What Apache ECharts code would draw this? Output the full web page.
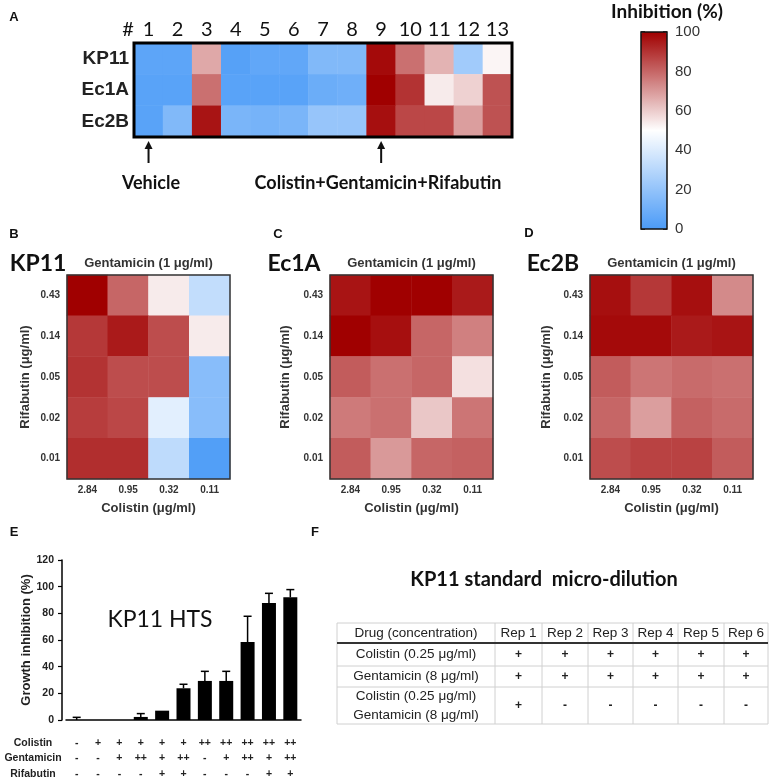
<!DOCTYPE html>
<html><head><meta charset="utf-8">
<script src="https://cdn.jsdelivr.net/npm/echarts@6/dist/echarts.min.js"></script>
<style>html,body{margin:0;padding:0;background:#fff}#c{width:773px;height:782px}</style>
</head><body><div id="c"></div>
<script>
// ---------------- DATA ----------------
const colsA = ['1','2','3','4','5','6','7','8','9','10','11','12','13'];
const rowsA = ['KP11','Ec1A','Ec2B'];
const heatA_KP11 = [5,5,67,3,6,6,15,15,98,78,65,24,52];
const heatA_Ec1A = [4,4,78,4,4,4,9,10,100,90,54,59,84];
const heatA_Ec2B = [4,15,96,13,12,13,21,21,97,86,86,69,84];

const colistinConc = ['2.84','0.95','0.32','0.11'];
const rifabutinConc = ['0.43','0.14','0.05','0.02','0.01'];
// rows: rifabutin 0.43 -> 0.01 ; columns: colistin 2.84 -> 0.11
const heatB_KP11 = [[100,80,54,33],[89,95,85,54],[90,85,85,17],[88,86,42,17],[91,91,32,2]];
const heatC_Ec1A = [[96,100,100,95],[100,97,80,75],[82,78,80,56],[76,78,61,77],[82,70,80,81]];
const heatD_Ec2B = [[97,89,97,73],[98,98,95,96],[82,77,79,78],[80,69,81,79],[85,87,87,82]];

const colorbarTicks = [0,20,40,60,80,100];

const barMean  = [0,0,0,2.3,7,23.8,29.3,29.3,58.5,87.8,92];
const barUpper = [2,0,0,4.8,7,26.8,36.5,36.5,77.8,95,97.8];
const colistinRow = ['-','+','+','+','+','+','++','++','++','++','++'];
const gentRow     = ['-','-','+','++','+','++','-','+','++','+','++'];
const rifRow      = ['-','-','-','-','+','+','-','-','-','+','+'];
const rowNames = ['Colistin','Gentamicin','Rifabutin'];

const tableHeader = ['Drug (concentration)','Rep 1','Rep 2','Rep 3','Rep 4','Rep 5','Rep 6'];
const tableRowLabels = ['Colistin (0.25 \u03bcg/ml)','Gentamicin (8 \u03bcg/ml)','Colistin (0.25 \u03bcg/ml)\nGentamicin (8 \u03bcg/ml)'];
const tableRowValues = [
  ['+','+','+','+','+','+'],
  ['+','+','+','+','+','+'],
  ['+','-','-','-','-','-']
];

// ---------------- LAYOUT ----------------
const ARIAL = 'Arial, "Liberation Sans", sans-serif';
const CAL = 'Lato, "Open Sans", sans-serif';
const gA = {left:134, top:43, width:378, height:94};
const gB = {left:67, top:275, width:163, height:204};
const gC = {left:330, top:275, width:163, height:204};
const gD = {left:590, top:275, width:163, height:204};
const gE = {left:66, top:560, width:235, height:160};
const gK = {left:641, top:32, width:26, height:197};

function toHeat(rows){ const out=[]; rows.forEach((r,yi)=>r.forEach((v,xi)=>out.push([xi,yi,v]))); return out; }
const heatAData = toHeat([heatA_KP11, heatA_Ec1A, heatA_Ec2B]);

function gridOf(g, bw, bc){ return Object.assign({show:true, backgroundColor:'transparent', borderColor:bc, borderWidth:bw, z:5, containLabel:false}, g); }

function smallX(idx){
  return {gridIndex:idx, type:'category', data:colistinConc, position:'bottom',
    axisLine:{show:false}, axisTick:{show:false}, splitLine:{show:false},
    axisLabel:{fontFamily:ARIAL, fontWeight:'bold', fontSize:10, color:'#333', margin:6},
    name:'Colistin (\u03bcg/ml)', nameLocation:'middle', nameGap:23,
    nameTextStyle:{fontFamily:ARIAL, fontWeight:'bold', fontSize:13, color:'#333'}};
}
function smallY(idx, gap){
  return {gridIndex:idx, type:'category', data:rifabutinConc, inverse:true,
    axisLine:{show:false}, axisTick:{show:false}, splitLine:{show:false},
    axisLabel:{fontFamily:ARIAL, fontWeight:'bold', fontSize:10, color:'#333', margin:7},
    name:'Rifabutin (\u03bcg/ml)', nameLocation:'middle', nameGap:gap, nameRotate:90,
    nameTextStyle:{fontFamily:ARIAL, fontWeight:'bold', fontSize:13, color:'#333'}};
}
function heatSeries(idx, data){
  return {type:'heatmap', xAxisIndex:idx, yAxisIndex:idx, data:data, emphasis:{disabled:true}, itemStyle:{borderWidth:0}};
}

const chart = echarts.init(document.getElementById('c'), null, {renderer:'canvas'});
const option = {
  animation:false,
  backgroundColor:'#fff',
  grid:[gridOf(gA,3,'#000'), gridOf(gB,1.5,'#333'), gridOf(gC,1.5,'#333'), gridOf(gD,1.5,'#333'),
        Object.assign({show:false}, gE), gridOf(gK,1.5,'#111')],
  visualMap:{type:'continuous', min:0, max:100, seriesIndex:[0,1,2,3], calculable:false,
    show:true, left:gK.left, top:gK.top, itemWidth:gK.width, itemHeight:gK.height, padding:0,
    inRange:{color:['#4b9bf7','#ffffff','#a00000']}},
  xAxis:[
    {gridIndex:0, type:'category', data:colsA, position:'top', axisLine:{show:false}, axisTick:{show:false},
      axisLabel:{fontFamily:CAL, fontSize:20, color:'#111', margin:3, interval:0}},
    smallX(1), smallX(2), smallX(3),
    {gridIndex:4, type:'category', data:barMean.map((v,i)=>String(i)),
      axisLine:{lineStyle:{color:'#000', width:1.5}},
      axisTick:{alignWithLabel:true, length:4, lineStyle:{color:'#000', width:1.2}},
      axisLabel:{interval:0, margin:15, lineHeight:15.5, fontFamily:ARIAL, fontWeight:'bold', fontSize:10.5, color:'#222',
        formatter:(v,i)=>colistinRow[i]+'\n'+gentRow[i]+'\n'+rifRow[i]}},
    {gridIndex:5, type:'category', data:[''], show:false}
  ],
  yAxis:[
    {gridIndex:0, type:'category', data:rowsA, inverse:true, axisLine:{show:false}, axisTick:{show:false},
      axisLabel:{fontFamily:ARIAL, fontWeight:'bold', fontSize:19, color:'#222', margin:5}},
    smallY(1,35), smallY(2,38), smallY(3,37),
    {gridIndex:4, type:'value', min:0, max:120, interval:20, offset:4,
      axisLine:{show:true, lineStyle:{color:'#000', width:1.5}},
      axisTick:{show:true, length:4, lineStyle:{color:'#000', width:1.2}},
      splitLine:{show:false},
      axisLabel:{fontFamily:ARIAL, fontWeight:'bold', fontSize:10.5, color:'#222', margin:8},
      name:'Growth inhibition (%)', nameLocation:'middle', nameGap:29, nameRotate:90,
      nameTextStyle:{fontFamily:ARIAL, fontWeight:'bold', fontSize:13, color:'#222'}},
    {gridIndex:5, type:'value', min:0, max:100, interval:20, position:'right',
      axisLine:{show:false}, splitLine:{show:false},
      axisTick:{show:true, inside:true, length:4, lineStyle:{color:'#111', width:1.5}},
      axisLabel:{fontFamily:ARIAL, fontSize:15, color:'#333', margin:8,
        formatter:(v)=>colorbarTicks.indexOf(v)>=0?String(v):''}},
    {gridIndex:5, type:'value', min:0, max:100, interval:20, position:'left',
      axisLine:{show:false}, splitLine:{show:false}, axisLabel:{show:false},
      axisTick:{show:true, inside:true, length:4, lineStyle:{color:'#111', width:1.5}}}
  ],
  series:[
    {type:'heatmap', xAxisIndex:0, yAxisIndex:0, data:heatAData, emphasis:{disabled:true}},
    heatSeries(1, toHeat(heatB_KP11)),
    heatSeries(2, toHeat(heatC_Ec1A)),
    heatSeries(3, toHeat(heatD_Ec2B)),
    {type:'bar', xAxisIndex:4, yAxisIndex:4, data:barMean, barWidth:14, itemStyle:{color:'#000'}, z:2},
    {type:'custom', xAxisIndex:4, yAxisIndex:4, z:3,
      data:barMean.map((m,i)=>[i,m,barUpper[i]]),
      encode:{x:0, y:[1,2]},
      renderItem:function(params, api){
        const x=api.value(0), m=api.value(1), u=api.value(2);
        if (!(u>m)) return {type:'group', children:[]};
        const p0=api.coord([x,m]), p1=api.coord([x,u]);
        const st={stroke:'#000', lineWidth:1.5};
        return {type:'group', children:[
          {type:'line', shape:{x1:p0[0],y1:p0[1],x2:p1[0],y2:p1[1]}, style:st},
          {type:'line', shape:{x1:p1[0]-4,y1:p1[1],x2:p1[0]+4,y2:p1[1]}, style:st}
        ]};
      }},
    {type:'line', xAxisIndex:5, yAxisIndex:5, data:[], silent:true}
  ]
};
chart.setOption(option);

// ---------------- ANNOTATIONS ----------------
function txt(t, x, y, size, weight, family, color, align){
  return {type:'text', x:x, y:y, silent:true, z:10,
    style:{text:t, fontSize:size, fontWeight:weight||'normal', fontFamily:family||ARIAL, fill:color||'#111',
      align:align||'center', verticalAlign:'middle', textAlign:align||'center', textVerticalAlign:'middle'}};
}
const g = [];
// panel letters
[['A',14,17],['B',14,234],['C',278,234],['D',529,233],['E',14,532],['F',315,532]].forEach(a=>g.push(txt(a[0],a[1],a[2],13,'bold',ARIAL,'#111')));
g.push(txt('#',128,30,20,'normal',CAL,'#111'));
g.push(txt('Inhibition (%)',667,12,19,'bold',CAL,'#111'));
// arrows in panel A
const boxBottom = gA.top + gA.height;
[[0,'Vehicle'],[8,'Colistin+Gentamicin+Rifabutin']].forEach(function(a){
  const x = chart.convertToPixel({xAxisIndex:0}, a[0]);
  g.push({type:'line', silent:true, shape:{x1:x,y1:boxBottom+10,x2:x,y2:boxBottom+26}, style:{stroke:'#111', lineWidth:2}});
  g.push({type:'polygon', silent:true, shape:{points:[[x,boxBottom+4],[x-4,boxBottom+12],[x+4,boxBottom+12]]}, style:{fill:'#111'}});
});
g.push(txt('Vehicle',151,183,18,'bold',CAL,'#111'));
g.push(txt('Colistin+Gentamicin+Rifabutin',378,183,18,'bold',CAL,'#111'));
// panel B/C/D headers
[['KP11',38,gB],['Ec1A',294,gC],['Ec2B',553,gD]].forEach(function(a){
  g.push(txt(a[0],a[1],264,23,'bold',CAL,'#111'));
  g.push(txt('Gentamicin (1 \u03bcg/ml)',a[2].left+a[2].width/2,263,13,'bold',ARIAL,'#333'));
});
// panel E
g.push(txt('KP11 HTS',160,620,23,'normal',CAL,'#111'));
rowNames.forEach((n,i)=>g.push(txt(n,33,743+i*15.5,10.5,'bold',ARIAL,'#222')));
// panel F
g.push(txt('KP11 standard  micro-dilution',544,580,20,'bold',CAL,'#111'));
const colE = [337,495,542,588,633,678,724,768];
const rowE = [623,643,666,687,724];
rowE.forEach(function(y,i){
  if (i===1) return;
  g.push({type:'line', silent:true, shape:{x1:colE[0],y1:y,x2:colE[colE.length-1],y2:y}, style:{stroke:'#d0d0d0', lineWidth:1}});
});
colE.forEach(function(x){
  g.push({type:'line', silent:true, shape:{x1:x,y1:rowE[0],x2:x,y2:rowE[rowE.length-1]}, style:{stroke:'#d0d0d0', lineWidth:1}});
});
g.push({type:'line', silent:true, z:11, shape:{x1:colE[0],y1:rowE[1],x2:colE[colE.length-1],y2:rowE[1]}, style:{stroke:'#333', lineWidth:1.8}});
tableHeader.forEach(function(h,j){
  g.push(txt(h,(colE[j]+colE[j+1])/2,(rowE[0]+rowE[1])/2,13.5,'normal',ARIAL,'#222'));
});
tableRowLabels.forEach(function(lbl,i){
  const yc=(rowE[i+1]+rowE[i+2])/2;
  const t = txt(lbl,(colE[0]+colE[1])/2,yc,13.5,'normal',ARIAL,'#222');
  t.style.lineHeight = 19;
  g.push(t);
  tableRowValues[i].forEach(function(v,j){
    g.push(txt(v,(colE[j+1]+colE[j+2])/2,yc,12,'bold',ARIAL,'#222'));
  });
});
chart.setOption({graphic:g});
</script></body></html>
